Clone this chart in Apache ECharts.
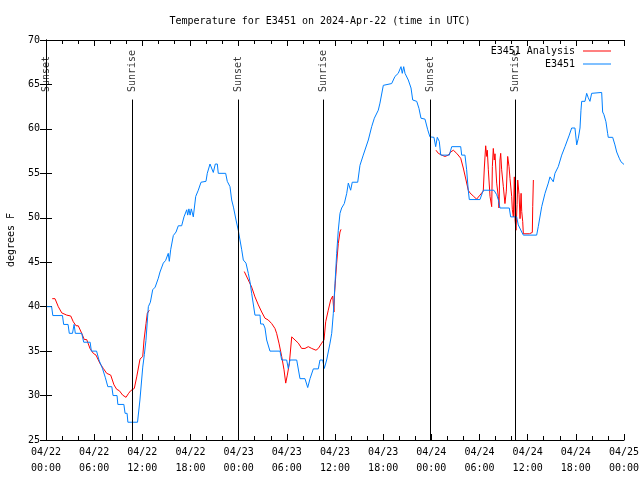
<!DOCTYPE html>
<html>
<head>
<meta charset="utf-8">
<script src="https://cdn.jsdelivr.net/npm/echarts@6/dist/echarts.min.js"></script>
<style>html,body{margin:0;padding:0;background:#fff}#c{width:640px;height:480px}</style>
</head>
<body>
<div id="c"></div>
<script>
// Hours since 2024-04-22 00:00 UTC
const xTickLabels = ['04/22\n00:00','04/22\n06:00','04/22\n12:00','04/22\n18:00','04/23\n00:00','04/23\n06:00','04/23\n12:00','04/23\n18:00','04/24\n00:00','04/24\n06:00','04/24\n12:00','04/24\n18:00','04/25\n00:00'];
const sunsetHours = [0, 23.98, 47.83];
const sunriseHours = [10.75, 34.53, 58.5];

// E3451 observations [hour, degrees F]
const observed = [[0,40],[0.7,40],[0.85,39],[2.05,39],[2.2,38],[2.75,38],[2.9,37],[3.3,37],[3.5,38],[3.65,37],[4.45,37],[4.7,36],[5.5,36],[5.65,35],[6.3,35],[6.6,34],[7.05,33],[7.4,32],[7.7,31],[8.2,31],[8.35,30],[8.85,30],[8.95,29],[9.7,29],[9.85,28],[10.1,28],[10.2,27],[11.4,27],[11.7,29.5],[12.05,33.2],[12.25,34.6],[12.45,36.2],[12.75,40],[13.0,40.5],[13.29,41.9],[13.6,42.2],[13.99,43.2],[14.2,43.9],[14.61,44.9],[14.9,45.2],[15.23,46.0],[15.36,45.1],[15.53,46.4],[15.86,48.0],[16.2,48.4],[16.48,49.1],[16.9,49.1],[17.19,50.1],[17.53,50.9],[17.65,50.3],[17.8,51.0],[17.95,50.3],[18.1,51.0],[18.35,50.1],[18.65,52.4],[18.97,53.1],[19.31,54.0],[19.93,54.1],[20.09,55.0],[20.43,56.05],[20.84,55.1],[21.09,56.05],[21.34,56.05],[21.46,55.0],[22.38,55.0],[22.58,54.1],[22.92,53.5],[23.13,52.0],[23.35,51.2],[23.67,49.75],[23.95,48.6],[24.38,46.4],[24.58,45.25],[24.91,44.9],[25.2,43.75],[25.41,42.8],[25.62,41.5],[26.03,39.05],[26.66,39.05],[26.74,38.05],[27.07,38.05],[27.28,37.6],[27.49,36.25],[27.9,35.0],[29.15,35.0],[29.36,34.0],[29.98,34.0],[30.18,33.05],[30.39,34.0],[31.23,34.0],[31.64,31.9],[32.26,31.9],[32.6,30.9],[32.89,31.9],[33.3,33.0],[33.92,33.0],[34.13,34.0],[34.47,34.0],[34.67,33.05],[34.96,34.0],[35.16,34.9],[35.38,35.9],[35.59,37.0],[35.79,39.25],[36.0,42.6],[36.21,46.0],[36.41,48.6],[36.62,50.5],[36.83,51.1],[37.16,51.6],[37.46,52.75],[37.66,53.9],[37.95,53.1],[38.15,54.0],[38.83,54.0],[39.11,55.9],[39.52,57.05],[39.74,57.2],[40.15,58.75],[40.57,60.25],[40.9,61.2],[41.39,62.1],[41.6,62.9],[42.02,64.9],[42.23,65.1],[43.06,65.1],[43.47,65.9],[43.88,66.25],[44.22,67.0],[44.38,66.25],[44.56,67.0],[44.72,66.25],[45.13,65.5],[45.47,64.6],[45.68,63.25],[46.18,63.1],[46.46,62.3],[46.71,61.2],[47.21,61.1],[47.55,59.9],[47.83,59.1],[48.33,59.05],[48.54,58.0],[48.74,59.05],[48.99,58.6],[49.17,57.05],[50.24,57.05],[50.54,58.0],[51.66,58.0],[51.78,57.05],[52.19,57.05],[52.4,55.4],[52.6,53.1],[52.73,52.05],[54.06,52.05],[54.47,53.1],[55.8,53.1],[56.14,52.6],[56.34,52.05],[56.55,51.1],[57.71,51.1],[57.88,50.1],[58.63,50.1],[58.83,49.2],[59.26,48.4],[59.46,48.05],[61.12,48.05],[61.32,49.0],[61.75,51.25],[62.16,52.75],[62.57,53.9],[62.78,54.6],[63.0,54.6],[63.19,54.05],[63.4,55.0],[63.81,55.75],[64.24,57.05],[64.65,58.0],[65.18,59.3],[65.48,60.1],[65.89,60.1],[66.11,58.2],[66.31,58.95],[66.52,60.1],[66.64,62.1],[66.73,63.1],[67.14,63.1],[67.35,64.0],[67.55,63.5],[67.76,63.1],[67.97,64.0],[69.22,64.1],[69.34,61.9],[69.5,61.6],[69.75,60.8],[69.96,59.5],[70.04,59.05],[70.59,59.05],[70.87,58.2],[71.09,57.4],[71.41,56.7],[71.62,56.3],[72,56.0]];

// E3451 Analysis, three night-time segments [hour, degrees F]
const analysisNight1 = [[0.78,40.9],[1.12,40.9],[1.53,40.0],[1.96,39.3],[2.58,39.05],[3.08,38.95],[3.4,38.3],[3.74,37.85],[4.02,37.85],[4.45,37.0],[4.77,36.3],[5.07,36.3],[5.48,35.3],[5.89,34.75],[6.23,34.55],[6.73,33.6],[7.14,33.05],[7.56,32.5],[8.06,32.3],[8.47,31.2],[8.81,30.7],[9.13,30.55],[9.55,30.05],[9.97,29.8],[10.25,30.2],[10.55,30.55],[11.0,30.8],[11.3,32.1],[11.71,34.1],[12.05,34.4],[12.21,36.25],[12.46,38.1],[12.62,39.25],[12.87,39.6]];
const analysisNight2 = [[24.7,43.95],[25.2,43.0],[25.62,42.2],[26.03,41.1],[26.45,40.2],[26.87,39.4],[27.28,38.7],[27.69,38.5],[28.11,38.1],[28.52,37.55],[28.73,37.0],[29.02,35.9],[29.36,34.4],[29.65,32.9],[29.86,31.4],[30.06,32.3],[30.31,33.6],[30.61,36.6],[31.02,36.25],[31.43,35.9],[31.85,35.3],[32.26,35.3],[32.67,35.5],[33.1,35.3],[33.63,35.1],[33.92,35.3],[34.34,35.9],[34.63,36.25],[34.84,38.3],[35.16,39.6],[35.46,40.75],[35.71,41.2],[35.87,39.4],[35.93,41.3],[36.09,43.4],[36.21,44.9],[36.41,47.1],[36.62,48.4],[36.75,48.7]];
const analysisNight3 = [[48.58,57.6],[48.87,57.25],[49.29,57.05],[49.7,56.9],[50.11,57.05],[50.41,57.4],[50.74,57.6],[51.16,57.25],[51.66,56.7],[51.98,55.6],[52.32,54.25],[52.6,53.1],[52.81,52.8],[53.22,52.45],[53.64,52.1],[54.06,52.55],[54.47,53.0],[54.6,55.6],[54.77,58.1],[54.9,56.9],[54.97,57.6],[55.1,55.4],[55.31,52.4],[55.52,51.25],[55.6,55.75],[55.72,57.8],[55.84,56.5],[55.93,57.2],[56.14,53.9],[56.34,52.4],[56.43,51.1],[56.55,56.5],[56.64,57.25],[56.76,55.4],[56.97,53.5],[57.17,51.6],[57.34,53.0],[57.51,56.9],[57.68,55.75],[57.8,54.4],[58.01,52.4],[58.09,50.9],[58.22,50.1],[58.34,54.6],[58.43,49.75],[58.55,48.6],[58.68,51.5],[58.76,54.25],[58.93,52.6],[59.05,49.9],[59.18,52.75],[59.26,50.7],[59.38,49.6],[59.46,48.2],[60.21,48.2],[60.29,48.35],[60.58,48.35],[60.63,51.25],[60.71,54.25]];

const FONT = 'DejaVu Sans Mono';
const LINE_TOP = 63.3;   // top of the sun event marker lines (degrees scale)
const LABEL_BASE = 64.15;

const sunEvents = sunsetHours.map(h => ({h, name: 'Sunset'}))
  .concat(sunriseHours.map(h => ({h, name: 'Sunrise'})));

const tickCommon = {
  axisLine: {show: true, lineStyle: {color: '#000', width: 1}},
  axisTick: {show: true, inside: true, length: 6, lineStyle: {color: '#000'}},
  splitLine: {show: false}
};

const chart = echarts.init(document.getElementById('c'), null, {renderer: 'canvas'});
const analysisName = 'E3451 Analysis';
function analysisSeries(d) {
  return {type: 'line', name: analysisName, data: d, symbol: 'none', showSymbol: false, z: 2,
          lineStyle: {color: '#ff0000', width: 1}, itemStyle: {color: '#ff0000'}};
}
chart.setOption({
  animation: false,
  backgroundColor: '#ffffff',
  textStyle: {fontFamily: FONT},
  title: {text: 'Temperature for E3451 on 2024-Apr-22 (time in UTC)', left: 'center', top: 11,
          textStyle: {fontSize: 10, fontWeight: 'normal', color: '#000', fontFamily: FONT}},
  legend: {orient: 'vertical', right: 24, top: 40, align: 'right', itemWidth: 28, itemHeight: 1, itemGap: 1,
           icon: 'rect',
           textStyle: {fontSize: 10, color: '#000', fontFamily: FONT, lineHeight: 12, padding: [0, 3, 0, 0]},
           data: [{name: analysisName, icon: 'rect', itemStyle: {color: '#ff0000'}},
                  {name: 'E3451', icon: 'rect', itemStyle: {color: '#0080ff'}}]},
  grid: {left: 46, right: 16, top: 40, bottom: 40, containLabel: false, outerBoundsMode: 'none'},
  xAxis: [
    Object.assign({type: 'value', min: 0, max: 72, interval: 6, position: 'bottom',
      minorTick: {show: true, splitNumber: 3, length: 4, lineStyle: {color: '#000'}},
      axisLabel: {color: '#000', fontSize: 10, fontFamily: FONT, lineHeight: 16, margin: 4,
                  showMinLabel: true, showMaxLabel: true, hideOverlap: false,
                  formatter: v => xTickLabels[Math.round(v / 6)]}}, tickCommon),
    Object.assign({type: 'value', min: 0, max: 72, interval: 6, position: 'top',
      minorTick: {show: true, splitNumber: 3, length: 4, lineStyle: {color: '#000'}},
      axisLabel: {show: false}}, tickCommon)
  ],
  yAxis: [
    Object.assign({type: 'value', min: 25, max: 70, interval: 5, position: 'left',
      name: 'degrees F', nameLocation: 'middle', nameGap: 30,
      nameTextStyle: {fontSize: 10, color: '#000', fontFamily: FONT},
      axisLabel: {color: '#000', fontSize: 10, fontFamily: FONT, margin: 6}}, tickCommon),
    Object.assign({type: 'value', min: 25, max: 70, interval: 5, position: 'right',
      axisLabel: {show: false}}, tickCommon)
  ],
  series: [
    {type: 'scatter', name: 'sun', z: 1, symbolSize: 0, clip: false, silent: true,
     data: sunEvents.map(e => ({name: e.name, value: [e.h, LABEL_BASE]})),
     label: {show: true, formatter: '{b}', position: 'inside', rotate: 90, align: 'left', verticalAlign: 'middle',
             color: '#000', fontSize: 10, fontFamily: FONT},
     markLine: {silent: true, symbol: ['none', 'none'], label: {show: false},
                lineStyle: {color: '#000', width: 1, type: 'solid'},
                data: sunEvents.map(e => [{coord: [e.h, 25]}, {coord: [e.h, LINE_TOP]}])}},
    analysisSeries(analysisNight1),
    analysisSeries(analysisNight2),
    analysisSeries(analysisNight3),
    {type: 'line', name: 'E3451', data: observed, symbol: 'none', showSymbol: false, z: 3,
     lineStyle: {color: '#0080ff', width: 1}, itemStyle: {color: '#0080ff'}}
  ]
});
</script>
</body>
</html>
